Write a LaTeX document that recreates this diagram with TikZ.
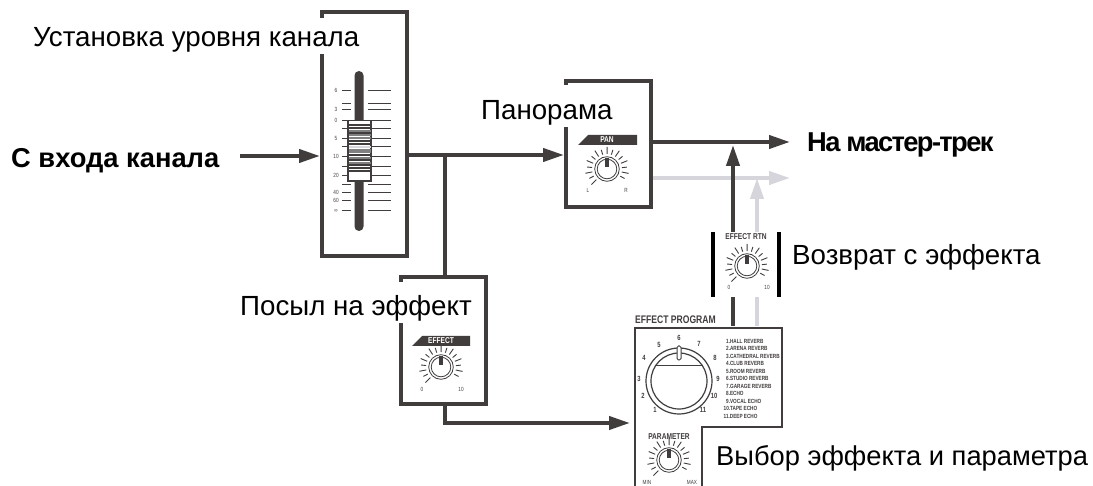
\documentclass[tikz,border=0pt]{standalone}
\usepackage{fontspec}
\setmainfont{Liberation Sans}
\newfontfamily\narrowfont[FakeStretch=0.78]{Liberation Sans}
\newfontfamily\tightfont[LetterSpace=-6]{Liberation Sans}
\usetikzlibrary{arrows.meta,calc}
\definecolor{dk}{HTML}{413D3C}
\definecolor{lg}{HTML}{D5D5DB}
\tikzset{
  panel/.style={draw=dk,line width=4pt,fill=white,inner sep=0pt,outer sep=2pt,minimum width=#1},
  wire/.style={draw=dk,line width=4pt},
  wirearrow/.style={wire,-{Triangle[length=21pt,width=13pt]}},
  ghostarrow/.style={draw=lg,line width=4pt,-{Triangle[length=21pt,width=13pt]}},
  ghostwire/.style={draw=lg,line width=4pt},
  bigtext/.style={inner sep=0pt,font=\fontsize{27.7}{28}\selectfont,text=black},
  boldtext/.style={inner sep=0pt,font=\fontsize{27.3}{28}\selectfont\bfseries,text=black},
  tiny/.style={inner sep=0pt,text=dk,font=\narrowfont\fontsize{6}{7}\selectfont},
  bannertxt/.style={inner sep=0pt,text=white,font=\narrowfont\bfseries\fontsize{8.5}{9}\selectfont},
  headtxt/.style={inner sep=0pt,text=dk,font=\narrowfont\bfseries\fontsize{10}{11}\selectfont},
  dialnum/.style={inner sep=0pt,text=dk,font=\narrowfont\bfseries\fontsize{7.5}{8}\selectfont},
  listtxt/.style={inner sep=0pt,text=dk,anchor=west,font=\narrowfont\bfseries\fontsize{6}{7}\selectfont},
  tickline/.style={draw=dk,line width=0.9pt},
}
\newcommand{\knobdial}[2]{%
  \foreach \a [count=\i] in {-135,-118.1,...,135.1}{
    \pgfmathsetmacro{\rr}{isodd(\i)?22:20}
    \draw[dk,line width=0.9pt] ($(#1,#2)+({\a-90}:15)$) -- ($(#1,#2)+({\a-90}:\rr)$);
  }
  \draw[dk,line width=0.8pt,fill=white] (#1,#2) circle (12.3);
  \draw[dk,line width=0.8pt] (#1,#2) circle (9.8);
  \fill[dk] (#1-2,#2-11) rectangle (#1+2,#2-2);
}
\newcommand{\bannershape}[4]{%
  \fill[dk] (#1,#3) -- (#1+10,#2) -- (#4,#2) -- (#4,#3) -- cycle;
}
\begin{document}
\begin{tikzpicture}[x=1pt,y=-1pt]
\clip (0,0) rectangle (1093,486);
\fill[white] (0,0) rectangle (1093,486);

% coordinates for junctions
\coordinate (inputstart) at (240,156);
\coordinate (junction) at (445,155);
\coordinate (fxbend) at (445,423);
\coordinate (mainend) at (790,142);
\coordinate (ghostend) at (790,178);

% panels
\node[panel,minimum width=85pt,minimum height=244pt] (fader) at (364.5,134) {};
\node[panel,minimum width=85pt,minimum height=126pt] (pan) at (608.5,144) {};
\node[panel,minimum width=85pt,minimum height=127pt] (send) at (443.5,340.5) {};

% wires
\draw[wirearrow] (inputstart) -- (fader.west |- inputstart);
\draw[wire] (fader.east |- junction) -- (junction);
\draw[wirearrow] (junction) -- (pan.west |- junction);
\draw[wire] (junction) -- (send.north -| junction);
\draw[wirearrow] (pan.east |- mainend) -- (mainend);
\draw[ghostarrow] (pan.east |- ghostend) -- (ghostend);

% program panel
\draw[dk,line width=1.4pt,fill=white] (635,500) -- (635,328) -- (782,328) -- (782,427) -- (702,427) -- (702,500);
\coordinate (programin) at (630,423);
\draw[wirearrow] (send.south -| fxbend) -- (fxbend) -- (programin);

% return wires
\draw[wire] (733,326) -- (733,297);
\draw[ghostwire] (757,326) -- (757,297);
\draw[wirearrow] (733,232) -- (733,145);
\draw[ghostarrow] (757,232) -- (757,178);
\draw[black,line width=4pt] (713,232) -- (713,297);
\draw[black,line width=4pt] (779,232) -- (779,297);

% white gaps in panels
\fill[white] (318,18) rectangle (326,54);
\fill[white] (562,85) rectangle (570,127);
\fill[white] (397,282) rectangle (405,323);

% fader
\fill[dk,rounded corners=4.5pt] (354.5,71) rectangle (363.5,231);
\foreach \y/\t in {90.7/6,109/3,120.7/0,138/5,156.7/10,175/20,192.7/40,200/60,210.7/∞}{
  \node[tiny] at (336,\y) {\t};
}
\foreach \y in {90.7,103,109,120.7,128.7,138,146.7,156.7,166,175,184.7,192.7,200,210.7}{
  \draw[tickline] (342,\y) -- (351,\y);
  \draw[tickline] (368,\y) -- (391,\y);
}
\draw[dk,line width=1.2pt,fill=white] (348,120.7) rectangle (371,181);
\foreach \y/\c in {125/dk,128/dk,131/gray,133/dk,135/gray,138/gray,141/dk,144/dk,147/lg,150/gray,152/gray,155/dk,158/gray,160/dk,163/gray,165/dk,168/dk,171/dk}{
  \draw[\c,line width=1.3pt] (348.5,\y) -- (370.5,\y);
}

% knobs and banners
\bannershape{578}{135}{145}{637}
\node[bannertxt] (panlabel) at (607,140) {PAN};
\knobdial{607}{169}
\node[tiny] at (588,190) {L};
\node[tiny] at (626,190) {R};

\bannershape{412}{336}{346}{470}
\node[bannertxt] (effectlabel) at (441,341) {EFFECT};
\knobdial{441}{367}
\node[tiny] at (422,389) {0};
\node[tiny] at (461,389) {10};

\node[headtxt,font=\narrowfont\bfseries\fontsize{8.5}{9}\selectfont] (rtnlabel) at (746,237) {EFFECT RTN};
\knobdial{747}{266}
\node[tiny] at (729,287) {0};
\node[tiny] at (767,287) {10};

% effect program
\node[headtxt,anchor=west,font=\narrowfont\bfseries\fontsize{11}{12}\selectfont] (programlabel) at (635,320) {EFFECT PROGRAM};
\draw[dk,line width=1.2pt] (679,381) circle (33);
\draw[dk,line width=1.2pt] (679,381) circle (28);
\draw[dk,line width=1pt] (655,366) -- (703,366);
\draw[dk,line width=1pt,fill=white,rounded corners=1.5pt] (677,346) rectangle (681,360);
\foreach \x/\y/\t in {679/338/6,659/345/5,699/344/7,644/358/4,715/358/8,639/379/3,718/379/9,643/396/2,714/396/10,655/410/1,703/410/11}{
  \node[dialnum] at (\x,\y) {\t};
}
\foreach \y/\t in {341/1.HALL REVERB,348.5/2.ARENA REVERB,356/3.CATHEDRAL REVERB,363.5/4.CLUB REVERB,371/5.ROOM REVERB,378.5/6.STUDIO REVERB,386/7.GARAGE REVERB,393.5/8.ECHO,401/9.VOCAL ECHO}{
  \node[listtxt] at (726,\y) {\t};
}
\node[listtxt] at (723.5,408.5) {10.TAPE ECHO};
\node[listtxt] at (723.5,416) {11.DEEP ECHO};
\node[headtxt,font=\narrowfont\bfseries\fontsize{8.5}{9}\selectfont] (paramlabel) at (669,437) {PARAMETER};
\knobdial{669}{460}
\node[tiny] at (647,482) {MIN};
\node[tiny] at (692,482) {MAX};

% labels
\node[bigtext,anchor=west] (lblfader) at (33,40) {Установка уровня канала};
\node[boldtext,anchor=west] (lblin) at (11,161) {С входа канала};
\node[bigtext,anchor=west] (lblpan) at (481,113) {Панорама};
\node[boldtext,anchor=west,font=\tightfont\bfseries\fontsize{27.3}{28}\selectfont] (lblmain) at (807,145) {На мастер-трек};
\node[bigtext,anchor=west] (lblsend) at (240,308) {Посыл на эффект};
\node[bigtext,anchor=west] (lblrtn) at (792,257) {Возврат с эффекта};
\node[bigtext,anchor=west,font=\fontsize{27.3}{28}\selectfont] (lblprog) at (716,458) {Выбор эффекта и параметра};
\end{tikzpicture}
\end{document}
